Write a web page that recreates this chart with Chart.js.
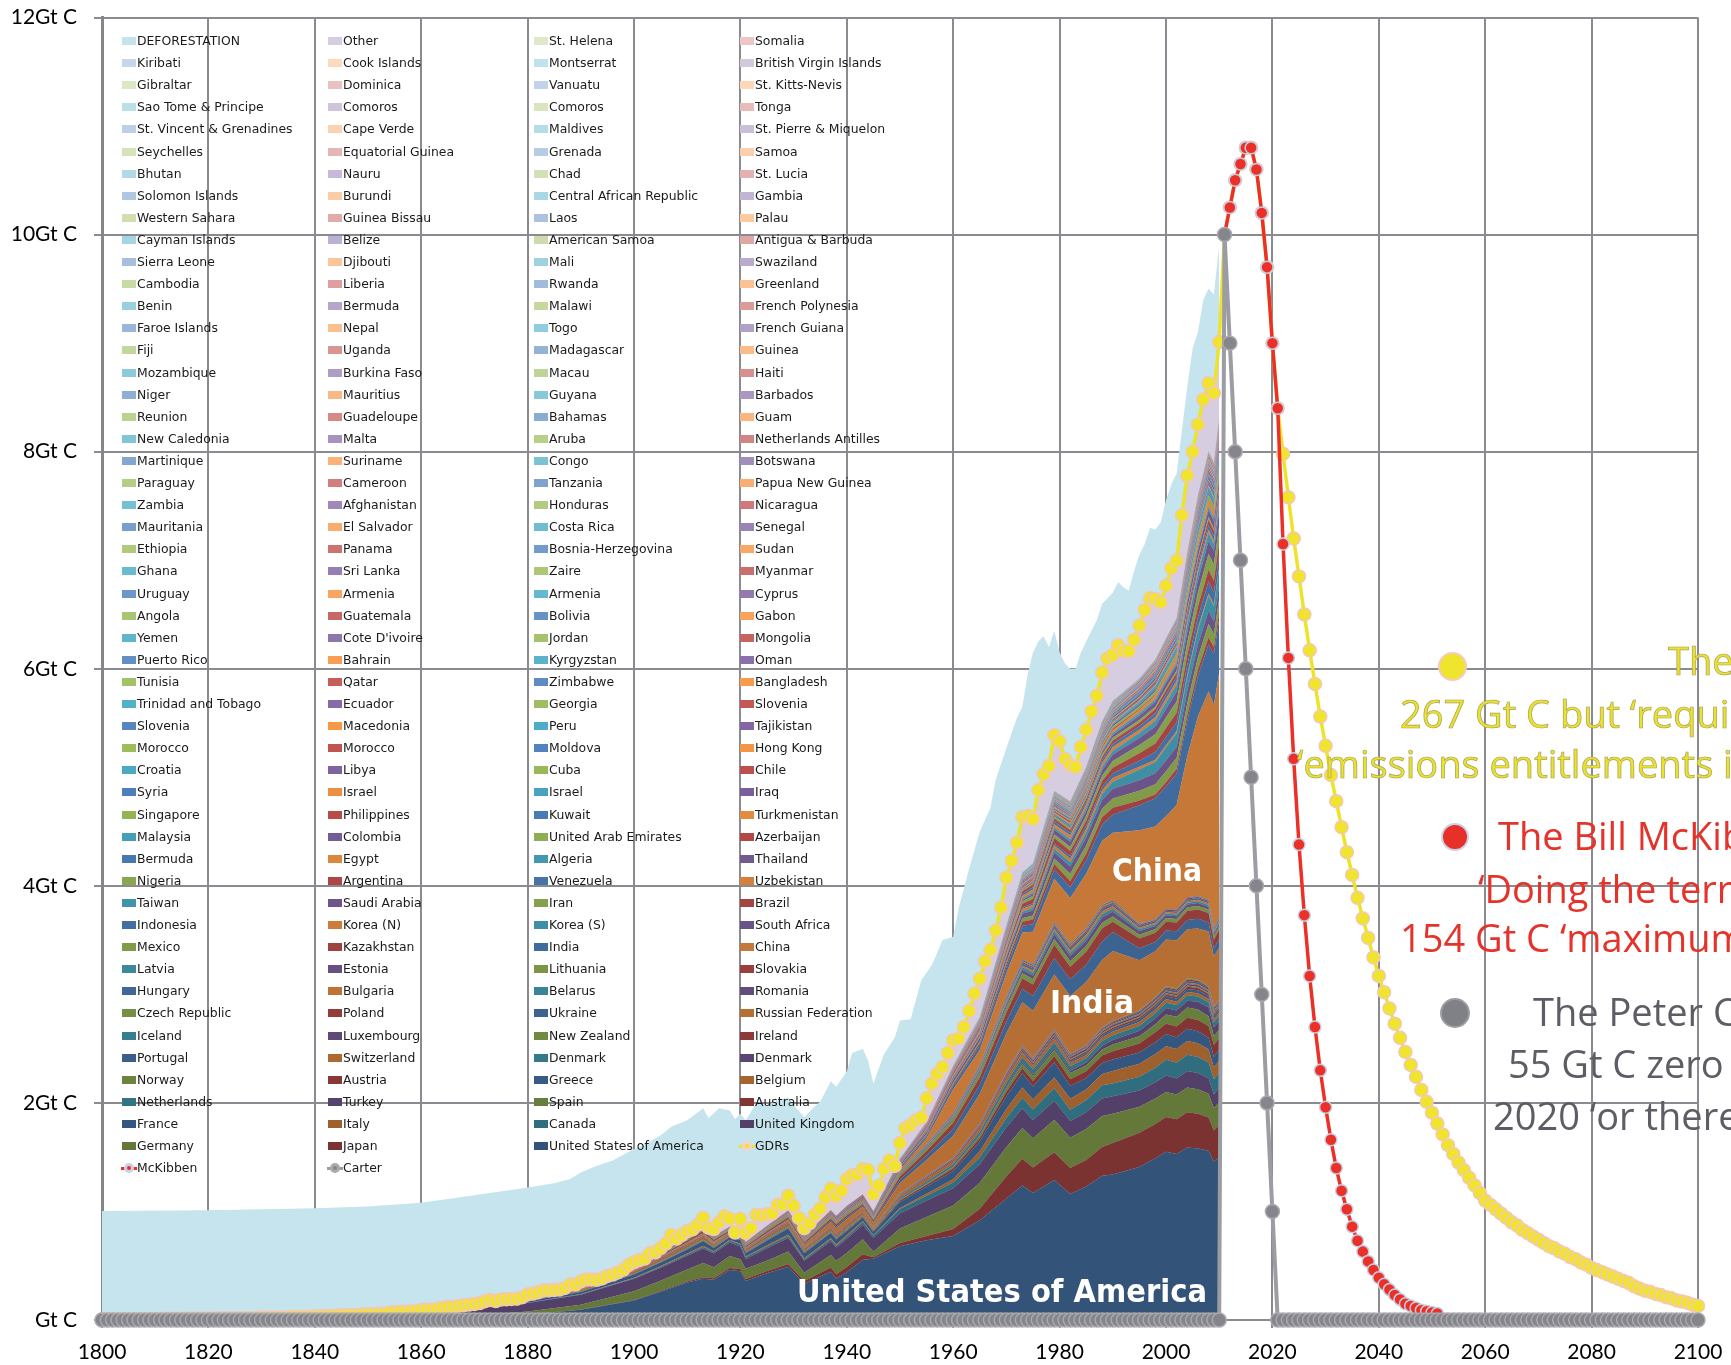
<!DOCTYPE html>
<html><head><meta charset="utf-8">
<script src="https://cdn.jsdelivr.net/npm/chart.js@4.4.1/dist/chart.umd.min.js"></script>
<style>
html,body{margin:0;padding:0;background:#fff;overflow:hidden;}
#wrap{position:relative;width:1731px;height:1365px;overflow:hidden;background:#fff;}
#c{position:absolute;left:0;top:0;}
.lgt{position:absolute;font-family:"DejaVu Sans",Verdana,sans-serif;font-size:12.4px;line-height:16px;color:#1a1a1a;white-space:nowrap;}
.sw{position:absolute;width:14px;height:8px;}
.ann{position:absolute;font-family:"Open Sans",sans-serif;font-size:38px;line-height:38px;white-space:nowrap;}
.band{position:absolute;font-family:"DejaVu Sans",Verdana,sans-serif;font-weight:bold;font-size:32px;line-height:32px;color:#fff;white-space:nowrap;transform-origin:0 0;}
.dot{position:absolute;border-radius:50%;box-sizing:border-box;}
</style></head>
<body><div id="wrap"><canvas id="c" width="1731" height="1365"></canvas><div id="over"></div></div>
<script>
// ---------------- axis tick labels ----------------
const X_TICK_LABELS = ['1800','1820','1840','1860','1880','1900','1920','1940','1960','1980','2000','2020','2040','2060','2080','2100'];
const Y_TICK_LABELS = ['Gt C','2Gt C','4Gt C','6Gt C','8Gt C','10Gt C','12Gt C'];

// ---------------- legend (as laid out in the original, four columns) ----------------
const LEGEND_COL1 = ["DEFORESTATION","Kiribati","Gibraltar","Sao Tome & Principe","St. Vincent & Grenadines","Seychelles","Bhutan","Solomon Islands","Western Sahara","Cayman Islands","Sierra Leone","Cambodia","Benin","Faroe Islands","Fiji","Mozambique","Niger","Reunion","New Caledonia","Martinique","Paraguay","Zambia","Mauritania","Ethiopia","Ghana","Uruguay","Angola","Yemen","Puerto Rico","Tunisia","Trinidad and Tobago","Slovenia","Morocco","Croatia","Syria","Singapore","Malaysia","Bermuda","Nigeria","Taiwan","Indonesia","Mexico","Latvia","Hungary","Czech Republic","Iceland","Portugal","Norway","Netherlands","France","Germany","McKibben"];
const LEGEND_COL2 = ["Other","Cook Islands","Dominica","Comoros","Cape Verde","Equatorial Guinea","Nauru","Burundi","Guinea Bissau","Belize","Djibouti","Liberia","Bermuda","Nepal","Uganda","Burkina Faso","Mauritius","Guadeloupe","Malta","Suriname","Cameroon","Afghanistan","El Salvador","Panama","Sri Lanka","Armenia","Guatemala","Cote D'ivoire","Bahrain","Qatar","Ecuador","Macedonia","Morocco","Libya","Israel","Philippines","Colombia","Egypt","Argentina","Saudi Arabia","Korea (N)","Kazakhstan","Estonia","Bulgaria","Poland","Luxembourg","Switzerland","Austria","Turkey","Italy","Japan","Carter"];
const LEGEND_COL3 = ["St. Helena","Montserrat","Vanuatu","Comoros","Maldives","Grenada","Chad","Central African Republic","Laos","American Samoa","Mali","Rwanda","Malawi","Togo","Madagascar","Macau","Guyana","Bahamas","Aruba","Congo","Tanzania","Honduras","Costa Rica","Bosnia-Herzegovina","Zaire","Armenia","Bolivia","Jordan","Kyrgyzstan","Zimbabwe","Georgia","Peru","Moldova","Cuba","Israel","Kuwait","United Arab Emirates","Algeria","Venezuela","Iran","Korea (S)","India","Lithuania","Belarus","Ukraine","New Zealand","Denmark","Greece","Spain","Canada","United States of America"];
const LEGEND_COL4 = ["Somalia","British Virgin Islands","St. Kitts-Nevis","Tonga","St. Pierre & Miquelon","Samoa","St. Lucia","Gambia","Palau","Antigua & Barbuda","Swaziland","Greenland","French Polynesia","French Guiana","Guinea","Haiti","Barbados","Guam","Netherlands Antilles","Botswana","Papua New Guinea","Nicaragua","Senegal","Sudan","Myanmar","Cyprus","Gabon","Mongolia","Oman","Bangladesh","Slovenia","Tajikistan","Hong Kong","Chile","Iraq","Turkmenistan","Azerbaijan","Thailand","Uzbekistan","Brazil","South Africa","China","Slovakia","Romania","Russian Federation","Ireland","Denmark","Belgium","Australia","United Kingdom","GDRs"];

// ---------------- historical fossil total = GDRs path 1800-2010 (Gt C) ----------------
const GDRS_HIST_START = 1800;
const gdrsHist = [
.008,.008,.010,.009,.009,.009,.010,.010,.010,.010,
.010,.011,.011,.011,.011,.012,.013,.014,.014,.014,
.014,.014,.015,.016,.016,.017,.017,.018,.018,.018,
.024,.023,.023,.024,.024,.025,.029,.029,.030,.031,
.033,.034,.036,.037,.039,.043,.043,.046,.047,.050,
.054,.054,.057,.059,.069,.071,.076,.077,.078,.083,
.091,.095,.097,.104,.112,.119,.122,.130,.135,.142,
.147,.156,.173,.184,.174,.188,.191,.194,.196,.210,
.236,.243,.256,.272,.275,.277,.281,.295,.327,.327,
.356,.372,.374,.370,.383,.406,.419,.440,.465,.507,
.534,.552,.566,.617,.624,.663,.707,.784,.750,.785,
.819,.836,.879,.943,.850,.838,.901,.955,.936,.806,
.932,.803,.845,.970,.963,.975,.983,1.062,1.065,1.145,
1.053,.940,.847,.893,.973,1.027,1.130,1.209,1.142,1.192,
1.299,1.334,1.342,1.391,1.383,1.160,1.238,1.392,1.469,1.419,
1.630,1.768,1.796,1.841,1.865,2.043,2.178,2.270,2.330,2.462,
2.577,2.594,2.700,2.848,3.008,3.145,3.305,3.411,3.588,3.800,
4.076,4.231,4.399,4.635,4.644,4.615,4.883,5.029,5.105,5.387,
5.332,5.168,5.113,5.094,5.280,5.439,5.607,5.752,5.965,6.097,
6.127,6.217,6.164,6.162,6.266,6.398,6.542,6.651,6.643,6.610,
6.765,6.927,6.996,7.416,7.780,8.000,8.250,8.480,8.630,8.540,
9.010];

// ---------------- scenario paths 2011-2100 (Gt C) ----------------
const FUTURE_START = 2011;
const gdrsFuture = [
10.0,10.25,10.5,10.65,10.8,10.8,10.6,10.2,9.7,9.0,
8.4,7.98,7.58,7.2,6.85,6.5,6.17,5.86,5.56,5.29,
5.02,4.78,4.54,4.31,4.10,3.89,3.70,3.52,3.34,3.17,
3.02,2.87,2.73,2.60,2.47,2.35,2.24,2.12,2.01,1.91,
1.81,1.71,1.61,1.53,1.45,1.38,1.31,1.24,1.17,1.10,
1.06,1.02,0.98,0.94,0.90,0.87,0.83,0.80,0.77,0.74,
0.71,0.68,0.66,0.63,0.61,0.58,0.56,0.53,0.51,0.48,
0.46,0.44,0.42,0.40,0.38,0.36,0.34,0.31,0.29,0.27,
0.26,0.24,0.23,0.21,0.20,0.18,0.17,0.16,0.14,0.13];
const mckibben = [
10.0,10.25,10.5,10.65,10.8,10.8,10.6,10.2,9.7,9.0,
8.4,7.15,6.1,5.17,4.38,3.73,3.17,2.70,2.30,1.96,
1.66,1.40,1.19,1.02,0.86,0.73,0.63,0.54,0.46,0.39,
0.33,0.28,0.23,0.19,0.15,0.13,0.11,0.09,0.08,0.07,
0.06];
const carterHist = [
0,0,0,0,0,0,0,0,0,0, 0,0,0,0,0,0,0,0,0,0, 0,0,0,0,0,0,0,0,0,0,
0,0,0,0,0,0,0,0,0,0, 0,0,0,0,0,0,0,0,0,0, 0,0,0,0,0,0,0,0,0,0,
0,0,0,0,0,0,0,0,0,0, 0,0,0,0,0,0,0,0,0,0, 0,0,0,0,0,0,0,0,0,0,
0,0,0,0,0,0,0,0,0,0, 0,0,0,0,0,0,0,0,0,0, 0,0,0,0,0,0,0,0,0,0,
0,0,0,0,0,0,0,0,0,0, 0,0,0,0,0,0,0,0,0,0, 0,0,0,0,0,0,0,0,0,0,
0,0,0,0,0,0,0,0,0,0, 0,0,0,0,0,0,0,0,0,0, 0,0,0,0,0,0,0,0,0,0,
0,0,0,0,0,0,0,0,0,0, 0,0,0,0,0,0,0,0,0,0, 0,0,0,0,0,0,0,0,0,0,
0];
const carterFuture = [
10,9,8,7,6,5,4,3,2,1,
0,0,0,0,0,0,0,0,0,0, 0,0,0,0,0,0,0,0,0,0, 0,0,0,0,0,0,0,0,0,0,
0,0,0,0,0,0,0,0,0,0, 0,0,0,0,0,0,0,0,0,0, 0,0,0,0,0,0,0,0,0,0,
0,0,0,0,0,0,0,0,0,0, 0,0,0,0,0,0,0,0,0,0];

// ---------------- deforestation (Gt C), sampled years ----------------
const defoYears = [1800,1820,1840,1850,1860,1870,1880,1885,1888,1890,1893,1896,1899,1902,1905,1907,1910,1913,1914,1916,1918,1919,1920,1921,1923,1925,1927,1929,1930,1932,1934,1935,1937,1938,1940,1941,1943,1944,1945,1947,1949,1950,1952,1954,1956,1958,1960,1961,1963,1965,1967,1968,1970,1972,1973,1974,1975,1976,1977,1978,1979,1980,1981,1982,1983,1984,1985,1986,1987,1988,1989,1990,1991,1992,1993,1994,1995,1996,1997,1998,1999,2000,2001,2002,2003,2004,2005,2006,2007,2008,2009,2010];
const deforestation = [.997,.998,.997,.991,.989,1.003,.984,.983,.973,1.004,1.050,1.051,1.043,1.054,1.037,.996,1.021,1.007,1.010,1.049,.994,1.044,.968,1.037,1.030,1.005,.958,.905,.927,1.023,.997,.983,.991,1.008,.991,1.126,1.109,1.007,1.020,1.058,1.181,1.130,.974,1.265,1.092,1.170,.953,1.196,1.312,1.355,1.309,1.392,1.194,1.151,1.015,1.306,1.535,1.367,1.271,1.095,.963,.818,.882,.887,.906,.870,.811,.743,.698,.635,.553,.573,.583,.586,.558,.634,.652,.608,.649,.637,.740,.785,.773,.804,.784,.820,.950,.850,.920,.870,.910,.890];

// ---------------- national fossil emissions (Gt C) at these years ----------------
const YEARS = [1800,1850,1870,1880,1890,1900,  1905,1910,1913,1915,1918,1920,  1921,1925,1929,1932,1937,1938,  1940,1943,1945,1950,1955,1960,  1965,1970,1973,1975,1979,1982,  1985,1988,1990,1995,1998,2000,  2002,2004,2006,2008,2009,2010];
const usa = [.0003,.0054,.025,.050,.095,.180,  .260,.345,.380,.370,.460,.450,  .360,.430,.490,.335,.445,.380,  .440,.555,.565,.680,.735,.775,  .920,1.120,1.240,1.170,1.290,1.160,  1.230,1.330,1.340,1.410,1.490,1.550,  1.530,1.590,1.580,1.560,1.460,1.500];
const japan = [0,0,0,.0002,.0007,.004,  .007,.010,.014,.015,.020,.020,  .018,.022,.026,.025,.038,.042,  .048,.050,.014,.029,.040,.064,  .105,.205,.245,.235,.255,.240,  .245,.265,.290,.315,.315,.320,  .320,.325,.320,.305,.285,.295];
const germany = [.0005,.0045,.016,.028,.045,.080,  .095,.110,.130,.100,.110,.090,  .095,.095,.115,.075,.115,.125,  .130,.140,.050,.135,.175,.215,  .240,.270,.285,.270,.300,.280,  .285,.285,.270,.240,.235,.230,  .228,.228,.225,.220,.205,.210];
const uk = [.0076,.041,.068,.079,.093,.115,  .120,.126,.134,.128,.124,.118,  .090,.115,.125,.112,.128,.120,  .130,.132,.126,.140,.150,.160,  .170,.180,.180,.165,.175,.153,  .155,.160,.162,.150,.150,.152,  .148,.150,.150,.145,.130,.135];
const canada = [0,0,0,.001,.003,.006,  .009,.013,.015,.013,.017,.017,  .015,.016,.019,.013,.017,.016,  .020,.025,.024,.038,.044,.052,  .065,.087,.098,.100,.115,.105,  .110,.122,.117,.125,.135,.145,  .145,.150,.148,.145,.138,.140];
const italy = [0,0,.0005,.001,.002,.004,  .006,.008,.010,.007,.008,.008,  .006,.010,.012,.010,.012,.013,  .014,.010,.003,.011,.020,.030,  .055,.082,.095,.092,.100,.100,  .098,.105,.115,.120,.125,.125,  .125,.128,.127,.120,.108,.110];
const france = [.0003,.004,.010,.014,.019,.030,  .033,.038,.044,.030,.025,.033,  .030,.045,.055,.046,.046,.045,  .038,.030,.027,.055,.065,.076,  .090,.117,.130,.120,.140,.117,  .104,.100,.106,.105,.110,.112,  .110,.112,.110,.106,.100,.100];
const australia = [0,0,.0005,.001,.0015,.002,  .003,.004,.004,.004,.004,.005,  .005,.005,.006,.005,.006,.007,  .008,.009,.009,.012,.017,.023,  .030,.041,.046,.050,.058,.062,  .065,.070,.076,.082,.090,.095,  .098,.102,.105,.108,.110,.108];
const spain = [0,.0002,.001,.002,.003,.003,  .004,.005,.005,.005,.005,.006,  .006,.007,.008,.007,.005,.006,  .007,.008,.008,.008,.010,.014,  .020,.033,.042,.046,.055,.058,  .052,.055,.063,.068,.075,.085,  .090,.095,.095,.090,.080,.075];
const turkey = [0,0,0,0,0,.0003,  .0004,.0005,.0006,.0005,.0005,.0005,  .0005,.0008,.001,.001,.0015,.0016,  .002,.002,.002,.003,.004,.005,  .008,.012,.015,.017,.020,.022,  .028,.035,.041,.050,.055,.061,  .058,.062,.072,.079,.080,.082];
const netherlands = [0,.0005,.001,.0015,.002,.004,  .005,.006,.006,.005,.005,.006,  .006,.007,.008,.007,.008,.008,  .008,.005,.003,.014,.017,.020,  .028,.038,.045,.044,.048,.040,  .042,.044,.044,.047,.047,.048,  .049,.050,.049,.049,.047,.050];
const belgium = [.0002,.004,.008,.010,.012,.016,  .018,.021,.025,.015,.012,.020,  .018,.024,.026,.020,.024,.023,  .018,.015,.012,.025,.026,.025,  .030,.035,.038,.034,.038,.030,  .028,.030,.033,.034,.034,.034,  .032,.031,.030,.030,.028,.029];
const greece = [0,0,0,0,0,.0002,  .0003,.0004,.0004,.0004,.0004,.0005,  .0005,.0006,.0007,.0007,.0008,.0008,  .0008,.0005,.0004,.001,.0015,.002,  .004,.006,.008,.009,.012,.014,  .015,.018,.020,.022,.024,.025,  .026,.027,.027,.027,.026,.025];
const austria = [0,.0002,.001,.002,.003,.005,  .005,.006,.007,.006,.005,.004,  .004,.005,.006,.004,.005,.006,  .008,.009,.004,.006,.008,.010,  .012,.014,.015,.014,.016,.015,  .015,.015,.016,.016,.017,.017,  .019,.021,.020,.019,.017,.018];
const norway = [0,0,.0003,.0005,.0007,.001,  .001,.0015,.0015,.0015,.0015,.0015,  .001,.0015,.0017,.0015,.002,.002,  .002,.0015,.001,.002,.003,.004,  .005,.007,.008,.008,.009,.008,  .009,.009,.009,.010,.011,.011,  .011,.011,.011,.011,.011,.012];
const denmark = [0,.0001,.0004,.0006,.001,.0015,  .002,.0025,.003,.003,.002,.003,  .002,.003,.004,.003,.004,.004,  .004,.002,.002,.005,.006,.008,  .012,.017,.016,.016,.018,.016,  .017,.016,.015,.017,.016,.014,  .014,.014,.015,.013,.013,.013];
const switzerland = [0,0,.0003,.0005,.0008,.001,  .0012,.0015,.0018,.0015,.001,.0012,  .0012,.0015,.0017,.0015,.0016,.0017,  .0017,.001,.001,.002,.003,.005,  .007,.011,.012,.011,.012,.011,  .011,.011,.012,.011,.012,.012,  .012,.012,.012,.012,.012,.012];
const portugal = [0,0,.0001,.0002,.0003,.0004,  .0005,.0005,.0006,.0005,.0005,.0005,  .0005,.0006,.0007,.0006,.0008,.0008,  .0008,.0008,.0008,.001,.0015,.002,  .003,.004,.005,.005,.007,.008,  .008,.010,.012,.013,.015,.017,  .017,.016,.016,.015,.015,.014];
const ireland = [0,0,0,0,0,0,  0,0,0,0,0,0,  .0005,.0007,.0007,.0007,.0008,.0008,  .0008,.0007,.0007,.001,.0015,.002,  .003,.004,.005,.005,.007,.007,  .007,.008,.008,.009,.011,.012,  .012,.012,.013,.012,.011,.011];
const newZealand = [0,0,0,.0002,.0003,.0005,  .0007,.001,.001,.001,.001,.001,  .001,.0012,.0013,.0012,.0014,.0015,  .0016,.0016,.0016,.002,.0025,.003,  .004,.004,.005,.005,.005,.005,  .006,.006,.007,.008,.009,.009,  .010,.010,.010,.010,.009,.009];
const luxembourg = [0,0,.0002,.0005,.001,.0015,  .002,.003,.003,.002,.002,.002,  .002,.002,.002,.002,.002,.002,  .002,.002,.002,.002,.003,.003,  .003,.004,.004,.004,.003,.003,  .003,.003,.003,.002,.002,.002,  .003,.003,.003,.003,.003,.003];
const russia = [0,0,.001,.002,.004,.006,  .008,.010,.012,.012,.006,.003,  .004,.007,.013,.022,.038,.040,  .045,.040,.040,.090,.140,.200,  .270,.350,.390,.430,.500,.530,  .580,.620,.640,.460,.420,.430,  .440,.450,.470,.500,.460,.480];
const ukraine = [0,0,0,0,.001,.002,  .003,.004,.005,.004,.002,.001,  .001,.003,.005,.008,.015,.016,  .018,.010,.012,.030,.045,.065,  .085,.110,.125,.135,.150,.155,  .160,.170,.175,.110,.085,.082,  .085,.087,.088,.085,.075,.080];
const poland = [0,.0005,.002,.004,.006,.009,  .011,.014,.016,.012,.012,.012,  .012,.014,.017,.013,.017,.018,  .016,.016,.012,.030,.040,.055,  .068,.082,.095,.105,.125,.115,  .120,.122,.095,.090,.085,.082,  .080,.083,.086,.085,.080,.085];
const czech = [0,.0003,.002,.003,.005,.007,  .008,.010,.012,.010,.009,.010,  .010,.012,.014,.010,.013,.014,  .014,.014,.010,.020,.027,.035,  .040,.045,.048,.049,.052,.051,  .052,.052,.048,.035,.034,.033,  .033,.034,.033,.032,.030,.031];
const romania = [0,0,0,0,0,.0005,  .001,.001,.0015,.001,.001,.001,  .001,.0015,.002,.002,.003,.003,  .003,.003,.002,.005,.008,.012,  .018,.025,.030,.035,.045,.048,  .050,.050,.045,.033,.028,.025,  .025,.026,.026,.025,.022,.021];
const belarus = [0,0,0,0,0,0,  0,0,0,0,0,0,  0,.001,.001,.001,.002,.002,  .002,.002,.002,.005,.008,.011,  .015,.020,.024,.026,.028,.029,  .030,.030,.028,.017,.016,.016,  .016,.016,.017,.017,.017,.017];
const bulgaria = [0,0,0,0,0,0,  0,0,0,0,0,.0005,  .0005,.001,.001,.001,.0015,.0015,  .0015,.002,.001,.002,.004,.006,  .010,.015,.018,.020,.022,.023,  .024,.024,.021,.015,.013,.012,  .013,.013,.014,.014,.012,.012];
const hungary = [0,0,.0003,.0005,.001,.0015,  .002,.0025,.003,.0025,.002,.002,  .002,.0025,.003,.0025,.003,.003,  .003,.003,.002,.005,.008,.010,  .013,.016,.019,.020,.022,.022,  .022,.021,.019,.016,.016,.015,  .015,.016,.015,.015,.014,.014];
const slovakia = [0,0,0,0,0,.0005,  .0006,.0008,.001,.001,.001,.001,  .001,.001,.0012,.001,.0012,.0012,  .0013,.0013,.001,.002,.004,.006,  .008,.010,.012,.013,.014,.015,  .015,.015,.014,.011,.011,.010,  .011,.011,.011,.010,.009,.009];
const lithuania = [0,0,0,0,0,0,  0,0,0,0,0,0,  0,0,0,0,0,0,  .0005,.0005,.0005,.001,.002,.003,  .005,.007,.008,.009,.010,.010,  .010,.010,.010,.004,.004,.003,  .003,.004,.004,.004,.004,.004];
const estonia = [0,0,0,0,0,0,  0,0,0,0,0,0,  .0005,.0005,.0006,.0006,.001,.001,  .001,.001,.001,.002,.004,.006,  .008,.009,.010,.010,.010,.010,  .010,.010,.010,.005,.005,.004,  .004,.005,.005,.005,.004,.005];
const latvia = [0,0,0,0,0,0,  0,0,0,0,0,0,  0,0,0,0,0,0,  .0005,.0005,.0005,.001,.002,.003,  .003,.004,.004,.005,.005,.005,  .005,.005,.005,.002,.002,.002,  .002,.002,.002,.002,.002,.002];
const china = [0,0,0,0,0,.0005,  .001,.002,.004,.004,.005,.005,  .005,.006,.008,.009,.012,.010,  .012,.013,.010,.021,.050,.215,  .130,.210,.250,.300,.400,.420,  .500,.590,.620,.860,.850,.850,  .960,1.300,1.650,1.920,2.050,2.250];
const india = [0,0,0,.0005,.001,.0025,  .003,.004,.005,.005,.005,.005,  .005,.006,.007,.007,.008,.008,  .008,.009,.009,.018,.020,.033,  .045,.055,.062,.070,.085,.100,  .125,.150,.165,.230,.260,.275,  .290,.325,.375,.430,.470,.500];
const kazakhstan = [0,0,0,0,0,0,  0,0,0,0,0,0,  0,0,.0005,.001,.002,.002,  .002,.003,.003,.006,.010,.014,  .020,.030,.038,.043,.050,.055,  .060,.065,.065,.045,.035,.040,  .045,.050,.058,.065,.060,.065];
const mexico = [0,0,0,0,.0002,.0005,  .001,.001,.001,.002,.002,.003,  .003,.004,.004,.004,.005,.005,  .005,.006,.006,.006,.009,.013,  .017,.025,.032,.037,.050,.070,  .075,.080,.085,.090,.095,.100,  .102,.110,.115,.125,.120,.122];
const southAfrica = [0,0,0,0,.0005,.001,  .002,.003,.004,.004,.004,.005,  .005,.005,.006,.005,.007,.008,  .009,.010,.011,.014,.018,.025,  .030,.035,.040,.045,.055,.065,  .075,.080,.090,.095,.100,.100,  .100,.115,.115,.120,.118,.120];
const koreaS = [0,0,0,0,0,0,  0,0,0,0,0,0,  0,0,0,0,0,0,  0,0,0,.0005,.001,.003,  .006,.015,.020,.025,.035,.040,  .045,.055,.065,.100,.105,.120,  .125,.130,.135,.140,.140,.150];
const koreaN = [0,0,0,0,0,0,  0,0,0,0,0,0,  0,0,0,0,0,0,  0,0,0,.0005,.002,.005,  .010,.020,.025,.028,.030,.033,  .035,.035,.035,.025,.020,.020,  .020,.020,.020,.020,.020,.020];
const indonesia = [0,0,0,0,0,.0002,  .0003,.0005,.001,.001,.001,.001,  .001,.001,.0015,.0015,.002,.002,  .002,.001,.001,.003,.004,.006,  .006,.009,.012,.014,.020,.024,  .027,.032,.040,.055,.070,.075,  .080,.090,.100,.110,.110,.115];
const brazil = [0,0,0,0,0,.0003,  .0005,.0008,.001,.001,.001,.001,  .001,.0015,.002,.002,.002,.002,  .002,.002,.002,.005,.008,.013,  .016,.025,.035,.040,.050,.048,  .047,.052,.055,.070,.080,.085,  .088,.090,.095,.110,.105,.115];
const iran = [0,0,0,0,0,0,  0,0,0,0,0,0,  0,0,0,0,0,0,  .0015,.001,.001,.002,.004,.006,  .010,.015,.025,.030,.035,.035,  .045,.050,.060,.075,.085,.095,  .105,.115,.130,.145,.150,.155];
const saudiArabia = [0,0,0,0,0,0,  0,0,0,0,0,0,  0,0,0,0,0,0,  0,0,.0005,.001,.0015,.002,  .003,.005,.010,.015,.040,.050,  .045,.050,.060,.065,.070,.080,  .090,.100,.110,.120,.125,.130];
const taiwan = [0,0,0,0,0,0,  0,0,0,0,0,0,  0,.0005,.0008,.0008,.001,.001,  .001,.0008,.0003,.001,.002,.003,  .005,.010,.014,.016,.022,.024,  .026,.032,.035,.045,.055,.060,  .065,.068,.070,.070,.065,.072];
const uzbekistan = [0,0,0,0,0,0,  0,0,0,0,0,0,  0,0,0,0,0,0,  0,0,0,.003,.005,.008,  .013,.020,.024,.027,.030,.032,  .034,.035,.035,.030,.032,.033,  .033,.031,.030,.032,.030,.031];
const venezuela = [0,0,0,0,0,0,  0,0,0,0,0,0,  0,.0003,.001,.001,.002,.002,  .002,.002,.003,.006,.008,.009,  .012,.015,.018,.020,.025,.026,  .025,.028,.030,.033,.038,.040,  .040,.042,.045,.045,.044,.045];
const argentina = [0,0,0,0,.0005,.001,  .0015,.002,.002,.0015,.0015,.002,  .002,.003,.004,.004,.005,.005,  .005,.005,.005,.007,.010,.013,  .017,.021,.024,.025,.027,.026,  .025,.028,.030,.033,.037,.038,  .033,.040,.045,.048,.045,.048];
const nigeria = [0,0,0,0,0,0,  0,0,0,0,0,0,  0,0,0,0,0,0,  0,0,0,.0005,.001,.001,  .002,.006,.010,.012,.018,.020,  .018,.020,.025,.025,.022,.022,  .025,.027,.026,.025,.023,.025];
const thailand = [0,0,0,0,0,0,  0,0,0,0,0,0,  0,0,0,0,0,0,  0,0,0,.0003,.0007,.001,  .002,.005,.007,.008,.011,.011,  .012,.018,.025,.040,.045,.045,  .050,.058,.062,.065,.065,.068];
const algeria = [0,0,0,0,0,0,  0,0,0,0,0,0,  0,0,0,0,0,0,  0,0,0,.001,.001,.0015,  .002,.005,.007,.010,.015,.018,  .020,.020,.022,.025,.024,.025,  .026,.028,.030,.030,.032,.033];
const egypt = [0,0,0,0,0,0,  0,0,0,0,0,0,  0,.0005,.001,.001,.001,.001,  .001,.0015,.0015,.002,.003,.004,  .005,.007,.008,.009,.012,.016,  .020,.022,.022,.028,.032,.038,  .040,.042,.050,.055,.057,.058];
const azerbaijan = [0,0,0,0,.0005,.002,  .003,.003,.003,.003,.002,.001,  .001,.002,.003,.003,.004,.004,  .004,.003,.003,.004,.005,.006,  .008,.010,.011,.012,.013,.014,  .015,.015,.015,.008,.008,.008,  .008,.008,.010,.009,.008,.008];
const uae = [0,0,0,0,0,0,  0,0,0,0,0,0,  0,0,0,0,0,0,  0,0,0,0,0,0,  .0002,.001,.003,.005,.010,.012,  .015,.018,.020,.025,.030,.033,  .035,.038,.042,.046,.047,.048];
const colombia = [0,0,0,0,0,0,  0,0,0,0,0,0,  0,0,0,0,0,0,  .0005,.0006,.0007,.002,.003,.005,  .006,.008,.009,.010,.012,.012,  .013,.014,.015,.017,.018,.017,  .016,.016,.017,.018,.019,.020];
const malaysia = [0,0,0,0,0,0,  0,0,0,0,0,0,  0,0,0,0,0,0,  0,0,0,.0005,.001,.001,  .0015,.003,.004,.005,.007,.009,  .010,.012,.015,.025,.033,.035,  .040,.048,.052,.055,.052,.056];
const turkmenistan = [0,0,0,0,0,0,  0,0,0,0,0,0,  0,0,0,0,0,0,  0,0,0,.001,.002,.003,  .005,.007,.008,.009,.010,.010,  .011,.011,.011,.009,.010,.010,  .011,.012,.013,.014,.014,.015];
const kuwait = [0,0,0,0,0,0,  0,0,0,0,0,0,  0,0,0,0,0,0,  0,0,0,.001,.002,.003,  .004,.008,.009,.008,.010,.008,  .010,.011,.012,.010,.013,.015,  .016,.020,.022,.025,.026,.027];
const philippines = [0,0,0,0,0,0,  0,0,0,0,0,0,  0,0,0,0,0,0,  .0005,.0004,.0003,.001,.002,.003,  .004,.006,.007,.008,.009,.008,  .007,.009,.012,.016,.020,.021,  .020,.020,.019,.020,.019,.020];
const singapore = [0,0,0,0,0,0,  0,0,0,0,0,0,  0,0,0,0,0,0,  0,0,0,.0005,.001,.001,  .002,.003,.004,.004,.005,.006,  .007,.008,.010,.012,.012,.012,  .012,.011,.011,.010,.009,.009];
const iraq = [0,0,0,0,0,0,  0,0,0,0,0,0,  0,0,0,0,0,0,  0,0,0,.001,.002,.003,  .004,.006,.008,.009,.012,.010,  .012,.014,.015,.020,.021,.022,  .022,.023,.025,.028,.030,.032];
const israel = [0,0,0,0,0,0,  0,0,0,0,0,0,  0,0,0,0,0,0,  0,0,0,.001,.002,.002,  .003,.004,.005,.005,.006,.006,  .007,.008,.009,.012,.016,.017,  .017,.018,.018,.019,.018,.019];
const syria = [0,0,0,0,0,0,  0,0,0,0,0,0,  0,0,0,0,0,0,  0,0,0,.0005,.001,.001,  .001,.002,.003,.004,.006,.007,  .008,.008,.009,.012,.013,.014,  .015,.018,.019,.019,.019,.020];
const chile = [0,0,0,0,.0005,.0008,  .001,.0012,.0015,.0015,.0015,.0015,  .0015,.0018,.002,.0015,.002,.002,  .002,.002,.002,.002,.003,.004,  .005,.006,.006,.005,.006,.005,  .005,.007,.009,.010,.015,.016,  .015,.016,.018,.020,.019,.020];
const cuba = [0,0,0,0,0,0,  0,0,0,0,0,0,  0,0,.0005,.0005,.0007,.0007,  .0008,.0008,.0008,.001,.002,.003,  .004,.004,.005,.006,.007,.008,  .009,.009,.009,.007,.007,.008,  .007,.007,.007,.008,.008,.009];
const libya = [0,0,0,0,0,0,  0,0,0,0,0,0,  0,0,0,0,0,0,  0,0,0,0,0,.0003,  .001,.001,.003,.004,.006,.007,  .008,.009,.010,.012,.012,.013,  .013,.014,.015,.016,.016,.017];
const croatia = [0,0,0,0,0,0,  0,0,0,0,0,0,  0,0,0,0,0,0,  .0005,.0005,.0005,.001,.002,.002,  .003,.004,.005,.005,.006,.006,  .006,.006,.006,.005,.005,.005,  .006,.006,.006,.006,.006,.006];
const hongKong = [0,0,0,0,0,0,  0,0,0,0,0,0,  0,0,0,0,0,0,  0,0,0,.0005,.001,.001,  .002,.002,.003,.004,.005,.006,  .007,.008,.008,.009,.011,.011,  .011,.011,.011,.010,.010,.010];
const moldova = [0,0,0,0,0,0,  0,0,0,0,0,0,  0,0,0,0,0,0,  0,0,0,.0003,.0005,.001,  .002,.003,.004,.004,.005,.005,  .006,.006,.006,.003,.002,.001,  .001,.001,.001,.0013,.0012,.0013];
const morocco = [0,0,0,0,0,0,  0,0,0,0,0,0,  0,0,0,0,0,0,  .0003,.0003,.0003,.001,.001,.001,  .002,.002,.003,.003,.004,.004,  .005,.005,.006,.008,.009,.010,  .011,.012,.012,.013,.013,.014];
const tajikistan = [0,0,0,0,0,0,  0,0,0,0,0,0,  0,0,0,0,0,0,  0,0,0,.0003,.0005,.001,  .001,.002,.002,.003,.003,.003,  .003,.003,.003,.0007,.0005,.0006,  .0006,.0008,.0008,.0008,.0008,.0008];
const peru = [0,0,0,0,0,0,  0,0,0,0,0,0,  .0005,.0005,.001,.001,.001,.001,  .001,.001,.001,.001,.002,.003,  .004,.005,.005,.006,.007,.006,  .006,.006,.006,.007,.008,.008,  .008,.008,.009,.011,.011,.013];
const slovenia = [0,0,0,0,0,0,  0,0,0,0,0,0,  0,0,0,0,0,0,  .0003,.0003,.0003,.0005,.001,.001,  .002,.003,.003,.003,.004,.004,  .004,.004,.004,.004,.004,.004,  .004,.004,.004,.004,.004,.004];
const georgia = [0,0,0,0,0,0,  0,0,0,0,0,0,  0,0,0,0,0,0,  .0005,.0005,.0005,.001,.002,.003,  .004,.005,.006,.006,.007,.007,  .008,.008,.008,.001,.001,.001,  .001,.001,.001,.0015,.0015,.0015];
const ecuador = [0,0,0,0,0,0,  0,0,0,0,0,0,  0,0,0,0,0,0,  0,0,0,.0003,.0004,.0005,  .0007,.001,.002,.002,.003,.003,  .004,.004,.004,.005,.005,.005,  .006,.007,.008,.008,.008,.009];
const trinidad = [0,0,0,0,0,0,  0,0,0,0,0,0,  0,0,0,.0002,.0003,.0003,  .0003,.0005,.0005,.001,.001,.001,  .002,.003,.003,.003,.004,.004,  .004,.005,.005,.006,.007,.007,  .008,.009,.011,.013,.012,.013];
const bangladesh = [0,0,0,0,0,0,  0,0,0,0,0,0,  0,0,0,0,0,0,  0,0,0,0,0,0,  0,.0005,.001,.001,.002,.002,  .003,.004,.004,.005,.006,.007,  .008,.009,.010,.012,.012,.013];
const qatar = [0,0,0,0,0,0,  0,0,0,0,0,0,  0,0,0,0,0,0,  0,0,0,0,0,0,  0,.001,.002,.003,.004,.004,  .005,.006,.006,.008,.010,.011,  .012,.014,.016,.018,.019,.020];
const zimbabwe = [0,0,0,0,0,0,  0,0,0,0,0,0,  0,.0005,.0005,.0005,.0007,.0007,  .0008,.001,.001,.001,.002,.002,  .002,.002,.002,.002,.002,.002,  .003,.004,.004,.004,.004,.004,  .003,.003,.003,.002,.002,.002];
const tunisia = [0,0,0,0,0,0,  0,0,0,0,0,0,  0,0,0,0,0,0,  0,0,0,.0003,.0005,.001,  .001,.001,.002,.002,.003,.003,  .003,.004,.004,.004,.005,.005,  .005,.006,.006,.006,.006,.007];
const oman = [0,0,0,0,0,0,  0,0,0,0,0,0,  0,0,0,0,0,0,  0,0,0,0,0,0,  0,0,.0005,.001,.001,.002,  .002,.003,.003,.004,.005,.007,  .008,.008,.010,.012,.012,.013];
const kyrgyzstan = [0,0,0,0,0,0,  0,0,0,0,0,0,  0,0,0,0,0,0,  0,0,0,.0005,.001,.001,  .002,.003,.003,.003,.003,.003,  .003,.003,.003,.001,.001,.001,  .001,.001,.0015,.0015,.0015,.0015];
const bahrain = [0,0,0,0,0,0,  0,0,0,0,0,0,  0,0,0,0,0,0,  0,0,0,0,0,0,  .0005,.001,.001,.001,.002,.002,  .002,.002,.003,.003,.004,.004,  .004,.005,.005,.006,.006,.006];
const puertoRico = [0,0,0,0,0,0,  0,0,0,0,0,0,  0,0,0,0,0,0,  .0003,.0003,.0003,.0005,.001,.002,  .003,.004,.004,.004,.004,.003,  .003,.003,.004,.004,.004,.004,  .004,.004,.004,.004,.004,.004];
const mongolia = [0,0,0,0,0,0,  0,0,0,0,0,0,  0,0,0,0,0,0,  0,0,0,.0002,.0003,.0005,  .0007,.001,.001,.001,.002,.002,  .002,.003,.003,.002,.002,.002,  .002,.002,.002,.003,.003,.003];
const jordan = [0,0,0,0,0,0,  0,0,0,0,0,0,  0,0,0,0,0,0,  0,0,0,0,0,.0003,  .0005,.001,.001,.001,.002,.002,  .003,.003,.003,.004,.004,.004,  .005,.005,.006,.006,.006,.006];
const yemen = [0,0,0,0,0,0,  0,0,0,0,0,0,  0,0,0,0,0,0,  0,0,0,0,0,0,  0,0,0,.0005,.001,.001,  .001,.001,.002,.003,.004,.004,  .005,.005,.006,.006,.006,.006];
const bolivia = [0,0,0,0,0,0,  0,0,0,0,0,0,  0,0,0,0,0,0,  0,0,0,.0002,.0003,.0004,  .0005,.001,.001,.001,.001,.001,  .001,.001,.001,.002,.003,.002,  .002,.002,.003,.003,.004,.004];
const armenia = [0,0,0,0,0,0,  0,0,0,0,0,0,  0,0,0,0,0,0,  0,0,0,.0003,.0005,.001,  .002,.002,.003,.003,.003,.003,  .003,.003,.003,.001,.001,.001,  .001,.001,.001,.0015,.0014,.0013];

const COUNTRY_SERIES = [
 ['United States of America',usa],['Japan',japan],['Germany',germany],['United Kingdom',uk],['Canada',canada],['Italy',italy],['France',france],
 ['Australia',australia],['Spain',spain],['Turkey',turkey],['Netherlands',netherlands],['Belgium',belgium],['Greece',greece],['Austria',austria],
 ['Norway',norway],['Denmark',denmark],['Switzerland',switzerland],['Portugal',portugal],['Ireland',ireland],['New Zealand',newZealand],['Luxembourg',luxembourg],
 ['Russian Federation',russia],['Ukraine',ukraine],['Poland',poland],['Czech Republic',czech],['Romania',romania],['Belarus',belarus],['Bulgaria',bulgaria],
 ['Hungary',hungary],['Slovakia',slovakia],['Lithuania',lithuania],['Estonia',estonia],['Latvia',latvia],['China',china],['India',india],['Kazakhstan',kazakhstan],
 ['Mexico',mexico],['South Africa',southAfrica],['Korea (S)',koreaS],['Korea (N)',koreaN],['Indonesia',indonesia],['Brazil',brazil],['Iran',iran],
 ['Saudi Arabia',saudiArabia],['Taiwan',taiwan],['Uzbekistan',uzbekistan],['Venezuela',venezuela],['Argentina',argentina],['Nigeria',nigeria],['Thailand',thailand],
 ['Algeria',algeria],['Egypt',egypt],['Azerbaijan',azerbaijan],['United Arab Emirates',uae],['Colombia',colombia],['Malaysia',malaysia],['Turkmenistan',turkmenistan],
 ['Kuwait',kuwait],['Philippines',philippines],['Singapore',singapore],['Iraq',iraq],['Israel',israel],['Syria',syria],['Chile',chile],['Cuba',cuba],['Libya',libya],
 ['Croatia',croatia],['Hong Kong',hongKong],['Moldova',moldova],['Morocco',morocco],['Tajikistan',tajikistan],['Peru',peru],['Slovenia',slovenia],['Georgia',georgia],
 ['Ecuador',ecuador],['Trinidad and Tobago',trinidad],['Bangladesh',bangladesh],['Qatar',qatar],['Zimbabwe',zimbabwe],['Tunisia',tunisia],['Oman',oman],
 ['Kyrgyzstan',kyrgyzstan],['Bahrain',bahrain],['Puerto Rico',puertoRico],['Mongolia',mongolia],['Jordan',jordan],['Yemen',yemen],['Bolivia',bolivia],['Armenia',armenia]
];

// ---------------- colours: Office accent cycle, darker at the bottom of the stack, paler at the top ----------------
const ACCENTS = [[79,129,189],[192,80,77],[155,187,89],[128,100,162],[75,172,198],[247,150,70]];
function seriesColour(b){
  const base = ACCENTS[b % 6], c = Math.floor(b / 6), v = -0.36 + c * (1.04 / 33);
  const rgb = base.map(x => Math.round(v < 0 ? x * (1 + v) : x + (255 - x) * v));
  return 'rgb(' + rgb.join(',') + ')';
}
const COLS = [LEGEND_COL1, LEGEND_COL2, LEGEND_COL3, LEGEND_COL4];
const LINE_NAMES = ['GDRs','McKibben','Carter'];
const posIndex = (r, c) => 202 - (4 * r + c);
const stackIndex = {};
for (let r = 0; r < 52; r++) for (let c = 0; c < 4; c++) {
  const n = COLS[c][r]; if (!n || LINE_NAMES.includes(n)) continue;
  stackIndex[n] = posIndex(r, c);
}

// ---------------- datasets ----------------
const datasets = [];
const problems = [];
const ordered = COUNTRY_SERIES.slice().sort((a, b) => stackIndex[a[0]] - stackIndex[b[0]]);
ordered.forEach(([name, vals], i) => {
  if (vals.length !== YEARS.length) problems.push(name + ':' + vals.length);
  if (stackIndex[name] === undefined) problems.push('noname:' + name);
  datasets.push({label: name, data: YEARS.map((yr, k) => ({x: yr, y: vals[k]})), backgroundColor: seriesColour(stackIndex[name]),
    borderWidth: 0, pointRadius: 0, fill: i === 0 ? 'origin' : '-1', stack: 'fossil', order: 5});
});
if (defoYears.length !== deforestation.length) problems.push('defo');
// "Other": the part of the fossil total not covered by the national bands above
datasets.push({label: 'Other', data: gdrsHist.map((v, k) => ({x: GDRS_HIST_START + k, y: v})), backgroundColor: seriesColour(stackIndex['Other']),
  borderWidth: 0, pointRadius: 0, fill: 'origin', stack: 'other', order: 8});
// DEFORESTATION stacked on top of the fossil total
datasets.push({label: 'DEFORESTATION', data: defoYears.map((yr, k) => ({x: yr, y: gdrsHist[yr - GDRS_HIST_START] + deforestation[k]})),
  backgroundColor: seriesColour(stackIndex['DEFORESTATION']), borderWidth: 0, pointRadius: 0, fill: 'origin', stack: 'defo', order: 9});
const gdrsPts = gdrsHist.map((v, k) => ({x: GDRS_HIST_START + k, y: v})).concat(gdrsFuture.map((v, k) => ({x: FUTURE_START + k, y: v})));
datasets.push({label: 'GDRs', data: gdrsPts, borderColor: '#eee32b', borderWidth: 3.5, pointRadius: 6.5, pointBackgroundColor: '#efe52c',
  pointBorderColor: '#f4c7b6', pointBorderWidth: 1.5, fill: false, stack: 'g', order: 3, clip: false});
datasets.push({label: 'McKibben', data: mckibben.map((v, k) => ({x: FUTURE_START + k, y: v})), borderColor: '#ec2f27', borderWidth: 3.5,
  pointRadius: 6, pointBackgroundColor: '#ec2f27', pointBorderColor: '#c4cfe2', pointBorderWidth: 1.5, fill: false, stack: 'm', order: 2, clip: false});
const carterPts = carterHist.map((v, k) => ({x: GDRS_HIST_START + k, y: v})).concat(carterFuture.map((v, k) => ({x: FUTURE_START + k, y: v})));
datasets.push({label: 'Carter', data: carterPts, borderColor: '#9c9da2', borderWidth: 4, pointRadius: 7, pointBackgroundColor: '#85858c',
  pointBorderColor: '#a9a9ae', pointBorderWidth: 1.5, fill: false, stack: 'c', order: 1, clip: false});

const GRID = '#8a8a90';
const chart = new Chart(document.getElementById('c'), {
  type: 'line',
  data: {datasets},
  options: {
    responsive: false, animation: false, events: [],
    layout: {padding: {left: 0, right: 33, top: 17.5, bottom: 0}},
    plugins: {legend: {display: false}, tooltip: {enabled: false}},
    elements: {line: {tension: 0}},
    scales: {
      x: {type: 'linear', min: 1800, max: 2100,
        ticks: {stepSize: 20, autoSkip: false, maxRotation: 0, padding: 12, color: '#000', font: {family: 'Lato', size: 21},
          callback: v => X_TICK_LABELS[Math.round((v - 1800) / 20)]},
        grid: {color: GRID, lineWidth: 2, tickLength: 8}, border: {color: GRID, width: 2},
        afterFit: s => { s.height = 45; s.paddingLeft = 0; s.paddingRight = 0; }},
      y: {stacked: true, min: 0, max: 12,
        ticks: {stepSize: 2, padding: 17, color: '#000', font: {family: 'Lato', size: 21},
          callback: v => Y_TICK_LABELS[Math.round(v / 2)]},
        grid: {color: GRID, lineWidth: 2, tickLength: 8}, border: {color: '#85858b', width: 3},
        afterFit: s => { s.width = 102; s.paddingTop = 0; s.paddingBottom = 0; }}
    }
  }
});

// ---------------- HTML overlay: legend, band labels, notes ----------------
const over = document.getElementById('over');
function el(tag, cls, style, text){ const e = document.createElement(tag); if (cls) e.className = cls; Object.assign(e.style, style); if (text != null) e.textContent = text; over.appendChild(e); return e; }
const COL_X = [122, 328, 534, 740];
const LINE_SW = {GDRs: ['#eee32b', '#f7d2c4', '#eee32b'], McKibben: ['#ec2f27', '#c9d3e6', '#ec2f27'], Carter: ['#9c9da2', '#a9a9ae', '#85858c']};
COLS.forEach((col, c) => col.forEach((name, r) => {
  const cy = 41 + 22.1 * r, x = COL_X[c];
  if (LINE_SW[name]) {
    const [lc, ring, ctr] = LINE_SW[name];
    el('div', '', {position: 'absolute', left: (x - 1) + 'px', top: (cy - 1.5) + 'px', width: '16px', height: '3px', background: lc});
    el('div', 'dot', {left: (x + 2) + 'px', top: (cy - 5) + 'px', width: '10px', height: '10px', background: ring});
    el('div', 'dot', {left: (x + 5) + 'px', top: (cy - 2) + 'px', width: '4px', height: '4px', background: ctr});
  } else {
    el('div', 'sw', {left: x + 'px', top: (cy - 4) + 'px', background: seriesColour(posIndex(r, c))});
  }
  el('div', 'lgt', {left: (x + 15) + 'px', top: (cy - 8) + 'px'}, name);
}));

// white labels written on the bands, placed in data units
const BAND_LABELS = [
  {text: 'United States of America', year: 1969.1, gt: 0.14, width: 410},
  {text: 'India', year: 1986.0, gt: 2.80, width: 84},
  {text: 'China', year: 1998.4, gt: 4.02, width: 90}
];
const mctx = document.createElement('canvas').getContext('2d');
mctx.font = 'bold 32px "DejaVu Sans"';
BAND_LABELS.forEach(b => {
  const px = chart.scales.x.getPixelForValue(b.year), py = chart.scales.y.getPixelForValue(b.gt);
  const w = mctx.measureText(b.text).width, k = b.width / w;
  el('div', 'band', {left: (px - b.width / 2) + 'px', top: (py - 30) + 'px', transform: 'scaleX(' + k.toFixed(3) + ')'}, b.text);
});

// scenario notes on the right (they run off the page edge as in the original)
const NOTES = [
  {t: 'The GDRs proposal', x: 1668, b: 675, c: '#ebe22e'},
  {t: '267 Gt C but \u2018requires negative', x: 1400, b: 728, c: '#ebe22e'},
  {t: '\u2018emissions entitlements in', x: 1297, b: 778, c: '#ebe22e'},
  {t: 'The Bill McKibben proposal', x: 1498, b: 850, c: '#e4332b'},
  {t: '\u2018Doing the terrifying math\u2019', x: 1478, b: 903, c: '#e4332b'},
  {t: '154 Gt C \u2018maximum\u2019', x: 1400, b: 952, c: '#e4332b'},
  {t: 'The Peter Carter proposal', x: 1533, b: 1026, c: '#5d5d65'},
  {t: '55 Gt C zero emissions', x: 1508, b: 1078, c: '#5d5d65'},
  {t: '2020 \u2018or thereabouts\u2019', x: 1493, b: 1130, c: '#5d5d65'}
];
NOTES.forEach(n => {
  const e = el('div', 'ann', {left: n.x + 'px', top: (n.b - 34) + 'px', color: n.c}, n.t);
  if (n.c === '#ebe22e') e.style.webkitTextStroke = '0.7px #a9a055';
});
el('div', 'dot', {left: '1438px', top: '652px', width: '29px', height: '29px', background: '#efe52c', border: '2px solid #f5cbbb'});
el('div', 'dot', {left: '1441px', top: '823px', width: '28px', height: '28px', background: '#e8302a', border: '2px solid #c9d3e6'});
el('div', 'dot', {left: '1440px', top: '998px', width: '30px', height: '30px', background: '#808087', border: '2px solid #9c9ca2'});

if (problems.length) el('div', '', {position: 'absolute', left: '900px', top: '5px', color: 'red', font: '14px sans-serif'}, 'LEN: ' + problems.join(' '));
</script></body></html>
